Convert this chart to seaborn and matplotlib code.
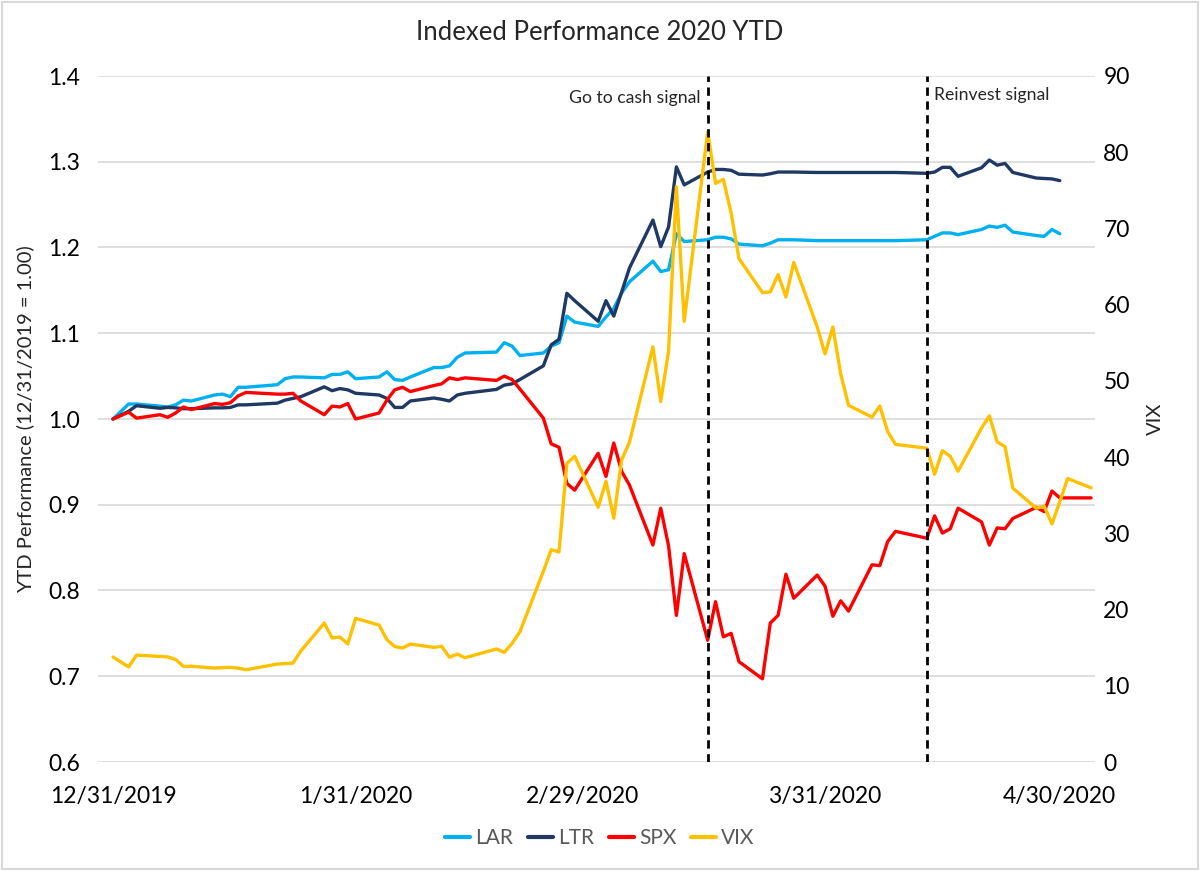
import matplotlib
matplotlib.use("Agg")
import matplotlib.pyplot as plt
import pandas as pd
import seaborn as sns
from matplotlib.lines import Line2D
from matplotlib.patches import Rectangle

# trading days, 12/31/2019 - 4/30/2020
dates = [
    "2019-12-31", "2020-01-02", "2020-01-03", "2020-01-06", "2020-01-07", "2020-01-08",
    "2020-01-09", "2020-01-10", "2020-01-13", "2020-01-14", "2020-01-15", "2020-01-16",
    "2020-01-17", "2020-01-21", "2020-01-22", "2020-01-23", "2020-01-24", "2020-01-27",
    "2020-01-28", "2020-01-29", "2020-01-30", "2020-01-31", "2020-02-03", "2020-02-04",
    "2020-02-05", "2020-02-06", "2020-02-07", "2020-02-10", "2020-02-11", "2020-02-12",
    "2020-02-13", "2020-02-14", "2020-02-18", "2020-02-19", "2020-02-20", "2020-02-21",
    "2020-02-24", "2020-02-25", "2020-02-26", "2020-02-27", "2020-02-28", "2020-03-02",
    "2020-03-03", "2020-03-04", "2020-03-05", "2020-03-06", "2020-03-09", "2020-03-10",
    "2020-03-11", "2020-03-12", "2020-03-13", "2020-03-16", "2020-03-17", "2020-03-18",
    "2020-03-19", "2020-03-20", "2020-03-23", "2020-03-24", "2020-03-25", "2020-03-26",
    "2020-03-27", "2020-03-30", "2020-03-31", "2020-04-01", "2020-04-02", "2020-04-03",
    "2020-04-06", "2020-04-07", "2020-04-08", "2020-04-09", "2020-04-13", "2020-04-14",
    "2020-04-15", "2020-04-16", "2020-04-17", "2020-04-20", "2020-04-21", "2020-04-22",
    "2020-04-23", "2020-04-24", "2020-04-27", "2020-04-28", "2020-04-29", "2020-04-30",
]
# SPX and VIX run a couple of days longer
extra_dates = ["2020-05-01", "2020-05-04"]

lar = [
    1.000, 1.0175, 1.0175, 1.015, 1.014, 1.0165, 1.022, 1.021, 1.028, 1.029, 1.026, 1.037,
    1.037, 1.040, 1.047, 1.049, 1.049, 1.048, 1.052, 1.052, 1.055, 1.047, 1.049, 1.055,
    1.046, 1.045, 1.049, 1.060, 1.060, 1.062, 1.072, 1.077, 1.078, 1.089, 1.085, 1.074,
    1.077, 1.085, 1.089, 1.120, 1.113, 1.108, 1.119, 1.129, 1.147, 1.160, 1.184, 1.172,
    1.174, 1.216, 1.207, 1.209, 1.212, 1.212, 1.210, 1.204, 1.202, 1.205, 1.209, 1.209,
    1.209, 1.208, 1.208, 1.208, 1.208, 1.208, 1.208, 1.208, 1.208, 1.208, 1.209, 1.213,
    1.217, 1.217, 1.215, 1.221, 1.225, 1.2235, 1.226, 1.218, 1.214, 1.213, 1.221, 1.216,
]
ltr = [
    1.000, 1.009, 1.0155, 1.0125, 1.0135, 1.013, 1.012, 1.012, 1.013, 1.013, 1.0135, 1.0165,
    1.0165, 1.0185, 1.022, 1.024, 1.026, 1.0375, 1.033, 1.0355, 1.034, 1.030, 1.028, 1.024,
    1.0135, 1.0135, 1.021, 1.0245, 1.023, 1.021, 1.028, 1.030, 1.0345, 1.0395, 1.041, 1.046,
    1.062, 1.0865, 1.093, 1.1466, 1.138, 1.114, 1.138, 1.120, 1.148, 1.176, 1.232, 1.201,
    1.224, 1.294, 1.273, 1.288, 1.291, 1.291, 1.290, 1.2855, 1.2845, 1.286, 1.288, 1.288,
    1.288, 1.2875, 1.2875, 1.2875, 1.2875, 1.2875, 1.2875, 1.2875, 1.2875, 1.2875, 1.2865, 1.288,
    1.2935, 1.2935, 1.283, 1.293, 1.302, 1.296, 1.298, 1.2875, 1.281, 1.2805, 1.280, 1.278,
]
spx = [
    1.000, 1.008, 1.001, 1.005, 1.002, 1.007, 1.014, 1.011, 1.018, 1.017, 1.019, 1.027,
    1.031, 1.029, 1.029, 1.030, 1.021, 1.005, 1.015, 1.014, 1.018, 1.000, 1.007, 1.022,
    1.034, 1.037, 1.032, 1.039, 1.041, 1.048, 1.046, 1.048, 1.045, 1.050, 1.046, 1.035,
    1.001, 0.971, 0.967, 0.925, 0.917, 0.960, 0.933, 0.972, 0.939, 0.923, 0.853, 0.896,
    0.852, 0.771, 0.843, 0.742, 0.787, 0.746, 0.750, 0.717, 0.697, 0.762, 0.771, 0.819,
    0.791, 0.818, 0.805, 0.770, 0.788, 0.776, 0.830, 0.829, 0.857, 0.869, 0.861, 0.887,
    0.867, 0.872, 0.896, 0.880, 0.853, 0.873, 0.872, 0.884, 0.897, 0.892, 0.916, 0.908,
    0.908, 0.908,
]
vix = [
    13.78, 12.47, 14.02, 13.85, 13.79, 13.45, 12.54, 12.56, 12.32, 12.39, 12.42, 12.32,
    12.10, 12.85, 12.91, 12.98, 14.56, 18.23, 16.28, 16.39, 15.49, 18.84, 17.97, 16.05,
    15.15, 14.96, 15.47, 15.04, 15.18, 13.74, 14.15, 13.68, 14.83, 14.38, 15.56, 17.08,
    25.03, 27.85, 27.56, 39.16, 40.11, 33.42, 36.82, 31.99, 39.62, 41.94, 54.46, 47.30,
    53.90, 75.47, 57.83, 82.69, 75.91, 76.45, 72.00, 66.04, 61.59, 61.67, 63.95, 61.00,
    65.54, 57.08, 53.54, 57.06, 50.91, 46.80, 45.24, 46.70, 43.35, 41.67, 41.17, 37.76,
    40.84, 40.11, 38.15, 43.83, 45.41, 41.98, 41.38, 35.93, 33.29, 33.57, 31.23, 34.15,
    37.19, 35.97,
]

signal_dates = ["2020-03-16", "2020-04-13"]
signal_labels = ["Go to cash signal", "Reinvest signal"]
tick_dates = ["2019-12-31", "2020-01-31", "2020-02-29", "2020-03-31", "2020-04-30"]
tick_labels = ["12/31/2019", "1/31/2020", "2/29/2020", "3/31/2020", "4/30/2020"]

colors = {"LAR": "#00B0F0", "LTR": "#1F3864", "SPX": "#FF0000", "VIX": "#FFC000"}

sns.set_style("white")
plt.rcParams["font.family"] = ["Lato", "DejaVu Sans"]

df = pd.DataFrame({"date": pd.to_datetime(dates), "LAR": lar, "LTR": ltr})
df_ext = pd.DataFrame({"date": pd.to_datetime(dates + extra_dates), "SPX": spx, "VIX": vix})

fig = plt.figure(figsize=(12, 8.71), dpi=100)
ax = fig.add_axes([98 / 1200, 1 - 762 / 871, (1095 - 98) / 1200, (762 - 76) / 871])
ax2 = ax.twinx()

lw = 2.4
sns.lineplot(data=df, x="date", y="LAR", ax=ax, color=colors["LAR"], lw=lw)
sns.lineplot(data=df, x="date", y="LTR", ax=ax, color=colors["LTR"], lw=lw)
sns.lineplot(data=df_ext, x="date", y="SPX", ax=ax, color=colors["SPX"], lw=lw)
sns.lineplot(data=df_ext, x="date", y="VIX", ax=ax2, color=colors["VIX"], lw=lw)

start = pd.Timestamp("2019-12-31")
ax.set_xlim(start - pd.Timedelta(days=1.92), start + pd.Timedelta(days=125.5))
ax.set_ylim(0.6, 1.4)
ax2.set_ylim(0, 90)
ax.set_yticks([0.6 + 0.1 * i for i in range(9)])
ax.set_yticklabels([f"{0.6 + 0.1 * i:.1f}" for i in range(9)])
ax2.set_yticks(range(0, 91, 10))
ax.set_xticks(pd.to_datetime(tick_dates))
ax.set_xticklabels(tick_labels)

ax.yaxis.grid(True, color="#d9d9d9", lw=1.2)
ax.xaxis.grid(False)
for a in (ax, ax2):
    for s in a.spines.values():
        s.set_visible(False)
    a.tick_params(length=0, labelsize=16.5, colors="black")
ax.tick_params(axis="y", pad=13)
ax.tick_params(axis="x", pad=17)
ax2.tick_params(axis="y", pad=6)

ax.set_xlabel("")
ax.set_ylabel("YTD Performance (12/31/2019 = 1.00)", fontsize=14.5, labelpad=10)
ax2.set_ylabel("VIX", fontsize=14.5, labelpad=12, rotation=90)

# signal lines and labels
for d in signal_dates:
    ax2.axvline(pd.Timestamp(d), color="black", ls=(0, (3, 2)), lw=2, zorder=5)
for d, lab, dx, ha, yf in [(signal_dates[0], signal_labels[0], -5, "right", 0.968),
                           (signal_dates[1], signal_labels[1], 5, "left", 0.972)]:
    ax2.annotate(lab, xy=(pd.Timestamp(d), yf), xycoords=("data", "axes fraction"),
                 xytext=(dx, 0), textcoords="offset points", ha=ha, va="center", fontsize=12.7)

fig.text(0.5, 1 - 33 / 871, "Indexed Performance 2020 YTD", ha="center", va="center", fontsize=18.5)

handles = [Line2D([0], [0], color=colors[k], lw=3) for k in ["LAR", "LTR", "SPX", "VIX"]]
fig.legend(handles, ["LAR", "LTR", "SPX", "VIX"], loc="center", bbox_to_anchor=(0.5, 1 - 838 / 871),
           ncol=4, frameon=False, handlelength=1.2, columnspacing=0.7, handletextpad=0.25,
           fontsize=15, labelcolor="#595959")

fig.patches.append(Rectangle((0.0015, 0.002), 0.997, 0.996, transform=fig.transFigure,
                             fill=False, edgecolor="#d9d9d9", lw=1.5))

fig.savefig("out.png", dpi=100)
